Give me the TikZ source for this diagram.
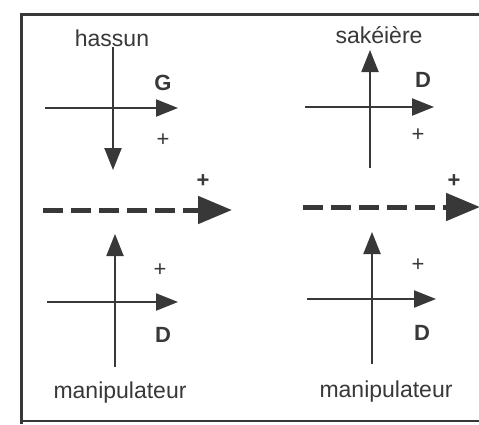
\documentclass[tikz,border=0pt]{standalone}
\usepackage{fontspec}
\setmainfont{Liberation Sans}
\usetikzlibrary{arrows.meta}
\definecolor{ink}{gray}{0.22}

\begin{document}
\begin{tikzpicture}[x=1pt,y=-1pt,
  axisline/.style={draw=ink,line width=2.2pt,-{Triangle[length=22pt,width=17pt]}},
  dispar/.style={draw=ink,line width=5pt,dash pattern=on 20pt off 8pt,-{Triangle[length=34pt,width=27pt]}},
  lbl/.style={inner sep=0pt,anchor=base,text=ink,font=\fontsize{23}{23}\selectfont},
  sidelbl/.style={inner sep=0pt,anchor=base,text=ink,font=\fontsize{22}{22}\selectfont\bfseries},
  sgn/.style={inner sep=0pt,text=ink,font=\fontsize{22}{22}\selectfont}]
  \useasboundingbox (0,0) rectangle (479,424);
  % frame
  \draw[ink,line width=3pt] (21,424) -- (21,14) -- (479,14);
  \draw[ink,line width=1.5pt] (21,421) -- (479,421);

  % hassun, G
  \coordinate (hlw) at (45,108);  \coordinate (hle) at (178,108);
  \coordinate (hln) at (113,47);  \coordinate (hls) at (113,170);
  \draw[axisline] (hlw) -- (hle);
  \draw[axisline] (hln) -- (hls);
  \node[lbl]     (hass) at (112,46) {hassun};
  \node[sidelbl] (g)    at (163,90) {G};
  \node[sgn]     (pg)   at (163,140) {+};

  % sakeiere, D
  \coordinate (srw) at (305,107); \coordinate (sre) at (434,107);
  \coordinate (srs) at (370,168); \coordinate (srn) at (370,50);
  \draw[axisline] (srw) -- (sre);
  \draw[axisline] (srs) -- (srn);
  \node[lbl]     (sake) at (379,43) {sakéière};
  \node[sidelbl] (d1)   at (423,87) {D};
  \node[sgn]     (pd1)  at (418,135) {+};

  % displacement
  \coordinate (ml0) at (43,210);  \coordinate (ml1) at (232,210);
  \coordinate (mr0) at (303,207); \coordinate (mr1) at (480,207);
  \draw[dispar] (ml0) -- (ml1);
  \draw[dispar] (mr0) -- (mr1);
  \node[sgn,font=\fontsize{22}{22}\selectfont\bfseries] (pml) at (203,181) {+};
  \node[sgn,font=\fontsize{22}{22}\selectfont\bfseries] (pmr) at (454,181) {+};

  % manipulateur, left
  \coordinate (blw) at (47,302);  \coordinate (ble) at (178,302);
  \coordinate (bls) at (115,367); \coordinate (bln) at (115,234);
  \draw[axisline] (blw) -- (ble);
  \draw[axisline] (bls) -- (bln);
  \node[sgn]     (pd2)  at (160,270) {+};
  \node[sidelbl] (d2)   at (163,342) {D};
  \node[lbl]     (man1) at (120,398) {manipulateur};

  % manipulateur, right
  \coordinate (brw) at (307,299); \coordinate (bre) at (436,299);
  \coordinate (brs) at (372,364); \coordinate (brn) at (372,232);
  \draw[axisline] (brw) -- (bre);
  \draw[axisline] (brs) -- (brn);
  \node[sgn]     (pd3)  at (418,265) {+};
  \node[sidelbl] (d3)   at (422,340) {D};
  \node[lbl]     (man2) at (386,397) {manipulateur};
\end{tikzpicture}
\end{document}
